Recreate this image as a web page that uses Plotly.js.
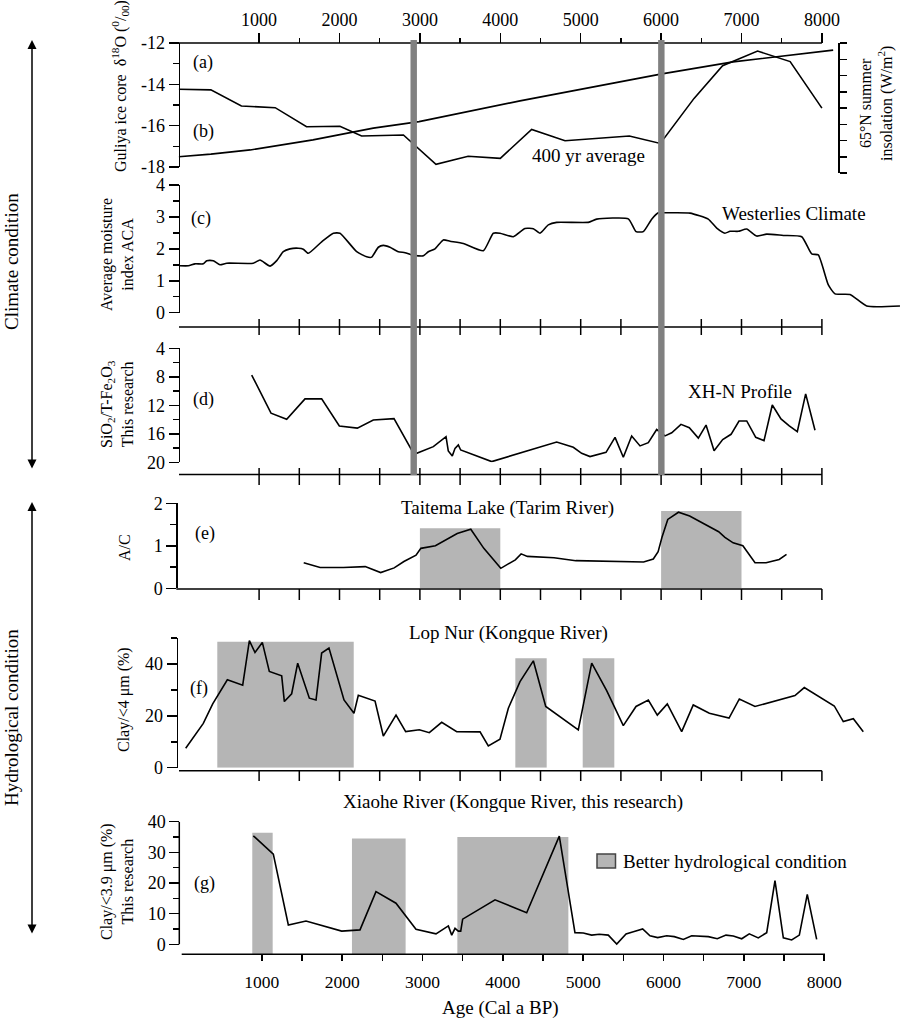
<!DOCTYPE html>
<html><head><meta charset="utf-8">
<script src="https://cdn.plot.ly/plotly-3.0.1.min.js"></script>
<style>html,body{margin:0;padding:0;background:#fff}#chart{width:900px;height:1020px}</style>
</head><body><div id="chart"></div>
<script>
// ---------------- DATA ----------------
// (a) Guliya ice core d18O (per mil), 400 yr average
const aAge = [0, 400, 780, 1200, 1590, 2005, 2275, 2795, 3200, 3600, 4000, 4390, 4805, 5605, 5990, 6410, 6765, 7200, 7605, 8000];
const aVal = [-14.24, -14.27, -15.05, -15.13, -16.05, -16.03, -16.5, -16.45, -17.87, -17.48, -17.58, -16.18, -16.73, -16.5, -16.86, -14.68, -13.1, -12.39, -12.9, -15.15];
// (b) 65N summer insolation (W/m2)
const bAge = [0, 400, 890, 1670, 2420, 2990, 4245, 6010, 6895, 8140];
const bVal = [475.0, 475.8, 477.1, 480.2, 483.8, 485.8, 492.2, 500.5, 504.2, 507.8];
// (c) Average moisture index ACA
const cAge = [16,120,203,306,348,430,514,597,928,1011,1136,1219,1301,1384,1488,1550,1612,1778,1923,2006,2214,2338,2400,2483,2545,2628,2731,2815,2898,2980,3043,3105,3188,3291,3375,3540,3789,3913,3996,4162,4307,4411,4494,4597,4701,5095,5199,5592,5688,5779,5883,5965,6070,6360,6587,6692,6794,6857,6960,7065,7189,7313,7520,7749,7873,7955,8080,8163,8350,8557,8971];
const cVal = [1.47,1.47,1.53,1.53,1.63,1.63,1.50,1.55,1.55,1.65,1.46,1.63,1.91,2.0,2.02,1.99,1.86,2.22,2.49,2.49,1.91,1.75,1.74,2.05,2.11,2.05,1.91,1.88,1.81,1.78,1.78,1.91,2.0,2.28,2.24,2.17,1.94,2.49,2.49,2.38,2.64,2.63,2.49,2.75,2.83,2.83,2.93,2.94,2.54,2.54,2.93,3.13,3.13,3.12,2.93,2.65,2.49,2.55,2.55,2.62,2.40,2.46,2.42,2.38,1.84,1.81,0.87,0.59,0.57,0.21,0.21];
// (d) SiO2/T-Fe2O3, XH-N profile
const dAge = [908,1148,1343,1571,1778,1998,2222,2420,2678,2898,2960,3167,3325,3353,3403,3437,3478,3507,3893,4701,4908,5012,5116,5315,5427,5530,5634,5738,5841,5945,6048,6132,6247,6351,6463,6559,6659,6766,6870,6969,7065,7177,7280,7383,7491,7594,7694,7798,7914];
const dVal = [7.75,13.1,13.97,11.1,11.08,14.9,15.2,14.07,13.88,18.3,18.74,17.8,16.4,18.4,19.1,18.04,17.57,18.27,19.9,17.15,17.9,18.74,19.2,18.6,16.5,19.3,16.3,17.7,17.25,15.4,16.3,15.85,14.67,15.14,16.6,14.77,18.37,16.8,16.07,14.2,14.2,16.5,16.97,11.96,13.92,14.9,15.7,10.4,15.5];
// (e) A/C, Taitema Lake
const eAge = [1555,1759,2048,2320,2512,2680,2801,2952,3012,3193,3464,3633,3795,4006,4187,4259,4337,4668,4939,5542,5782,5903,5963,6011,6083,6216,6355,6716,6794,6896,7017,7168,7306,7469,7560];
const eVal = [0.60,0.49,0.49,0.51,0.37,0.48,0.63,0.78,0.94,1.0,1.29,1.39,0.94,0.47,0.67,0.81,0.75,0.72,0.65,0.63,0.62,0.69,0.86,1.2,1.62,1.79,1.70,1.33,1.2,1.07,1.0,0.60,0.60,0.68,0.80];
// (f) Clay/<4 um (%), Lop Nur
const fAge = [87,306,423,605,796,879,949,1040,1127,1281,1314,1405,1480,1625,1708,1778,1869,2056,2180,2234,2442,2545,2703,2823,2993,3117,3271,3458,3748,3851,3996,4100,4245,4411,4565,4970,5137,5323,5530,5688,5841,5953,6077,6256,6400,6600,6845,6973,7168,7665,7781,8154,8266,8391,8515];
const fVal = [7.5,17.1,24.6,33.9,31.8,49.0,44.4,48.3,37.1,35.4,25.5,28.5,40.3,26.8,26.1,44.2,46.1,26.1,21.0,27.9,25.7,12.2,20.3,13.9,14.6,13.5,17.5,13.9,13.8,8.4,11.0,22.9,33.2,41.2,23.6,14.6,40.3,29.7,16.2,23.6,26.1,20.3,24.6,13.9,24.2,21.0,19.1,26.5,23.6,27.8,30.9,23.8,17.8,18.9,13.9];
// (g) Clay/<3.9 um (%), Xiaohe River
const gAge = [894,1143,1330,1550,1994,2222,2421,2670,2919,3168,3322,3364,3405,3446,3476,3500,3903,4297,4703,4898,5002,5106,5201,5313,5418,5534,5625,5741,5832,5928,6040,6135,6247,6351,6558,6670,6778,6869,6974,7068,7180,7285,7388,7492,7596,7691,7790,7907];
const gVal = [35.4,29.4,6.3,7.6,4.3,4.7,17.2,13.4,4.9,3.4,6.0,3.0,5.2,4.3,4.3,8.2,14.5,10.3,35.3,3.8,3.7,3.0,3.3,3.0,0.1,3.4,4.1,5.0,2.8,2.2,2.8,2.5,1.6,2.8,2.5,1.8,3.0,2.7,1.8,3.4,2.1,3.8,20.8,2.1,1.4,3.0,16.3,1.6];
// Better hydrological condition intervals [start age, end age, top value]
const eBoxStart = [3000, 6000], eBoxEnd = [4000, 7000], eBoxTop = [1.41, 1.82];
const fBoxStart = [480, 4187, 5025], fBoxEnd = [2177, 4577, 5418], fBoxTop = [48.6, 42.2, 42.2];
const gBoxStart = [881, 2122, 3434], gBoxEnd = [1135, 2790, 4816], gBoxTop = [36.4, 34.5, 35.0];
// transition events (grey vertical bars)
const eventAges = [2923, 6003];
// tick labels
const ageTickVals = [1000,2000,3000,4000,5000,6000,7000,8000];
const ageTickText = ['1000','2000','3000','4000','5000','6000','7000','8000'];
const ageHalfTicks = [1500,2500,3500,4500,5500,6500,7500];
const ageAllTicks = [1000,1500,2000,2500,3000,3500,4000,4500,5000,5500,6000,6500,7000,7500,8000];

// ---------------- LAYOUT HELPERS ----------------
const W = 900, H = 1020;
const px = v => v / W, py = v => 1 - v / H;
const XL = 178.7, K = 0.0804;          // main age axis: pixel of age 0, px per year
const XLg = 181.5, Kg = 0.08033;       // bottom panel age axis
const XD = [px(XL), 1];
const xRange = [0, (W - XL) / K];
const xRangeG = [(XL - XLg) / Kg, (W - XLg) / Kg];
const FONT = '"Liberation Serif", "Times New Roman", serif';
const BLACK = '#000';
const BOXC = '#b5b5b5';

function yAxis(topPx, botPx, range, tv, tt, minor, posPx, showline) {
  return {
    domain: [py(botPx), py(topPx)], range: range, anchor: 'free', position: px(posPx),
    showline: showline !== false, linecolor: BLACK, linewidth: 1.5, showgrid: false, zeroline: false,
    tickmode: 'array', tickvals: tv, ticktext: tt, ticks: 'outside', ticklen: 10, tickwidth: 1.5, tickcolor: BLACK,
    tickfont: {family: FONT, size: 18, color: BLACK},
    minor: {tickmode: 'array', tickvals: minor, ticks: 'outside', ticklen: 6, tickwidth: 1.5, tickcolor: BLACK, showgrid: false},
    fixedrange: true
  };
}

const line = {color: BLACK, width: 1.6};
const traces = [
  {x: aAge, y: aVal, xaxis: 'x', yaxis: 'y', mode: 'lines', line: line},
  {x: bAge, y: bVal, xaxis: 'x', yaxis: 'y2', mode: 'lines', line: line},
  {x: cAge, y: cVal, xaxis: 'x', yaxis: 'y3', mode: 'lines', line: Object.assign({shape: 'spline', smoothing: 0.5}, line)},
  {x: dAge, y: dVal, xaxis: 'x', yaxis: 'y4', mode: 'lines', line: line},
  {x: eAge, y: eVal, xaxis: 'x', yaxis: 'y5', mode: 'lines', line: line},
  {x: fAge, y: fVal, xaxis: 'x', yaxis: 'y6', mode: 'lines', line: line},
  {x: gAge, y: gVal, xaxis: 'x2', yaxis: 'y7', mode: 'lines', line: line}
];

const gBase = -(954.3 - 944.3) / ((944.3 - 821.7) / 40);

const layout = {
  width: W, height: H, margin: {l: 0, r: 0, t: 0, b: 0},
  paper_bgcolor: '#fff', plot_bgcolor: 'rgba(0,0,0,0)', showlegend: false,
  font: {family: FONT, size: 18, color: BLACK},
  xaxis: {
    domain: XD, range: xRange, anchor: 'free', position: py(43), side: 'top',
    showline: false, showgrid: false, zeroline: false,
    tickmode: 'array', tickvals: ageTickVals, ticktext: ageTickText, ticks: 'outside', ticklen: 10, tickwidth: 1.5, tickcolor: BLACK,
    tickfont: {family: FONT, size: 18, color: BLACK},
    minor: {tickmode: 'array', tickvals: ageHalfTicks, ticks: 'outside', ticklen: 5, tickwidth: 1.5, tickcolor: BLACK, showgrid: false},
    fixedrange: true
  },
  xaxis2: {
    domain: XD, range: xRangeG, anchor: 'free', position: py(954.3), side: 'bottom',
    showline: false, showgrid: false, zeroline: false,
    tickmode: 'array', tickvals: ageTickVals, ticktext: ageTickText, ticks: 'outside', ticklen: 6, tickwidth: 1.5, tickcolor: BLACK,
    tickfont: {family: FONT, size: 17.5, color: BLACK}, ticklabelstandoff: 6,
    minor: {tickmode: 'array', tickvals: ageHalfTicks, ticks: 'outside', ticklen: 6, tickwidth: 1.5, tickcolor: BLACK, showgrid: false},
    fixedrange: true
  },
  yaxis: yAxis(43, 167, [-18, -12], [-18, -16, -14, -12], ['-18', '-16', '-14', '-12'], [-17, -15, -13], XL),
  yaxis2: Object.assign(yAxis(43, 173, [470, 510], [470, 475, 480, 485, 490, 495, 500, 505, 510], null, [], 838), {side: 'right', showticklabels: false, ticklen: 7}),
  yaxis3: yAxis(185, 312.7, [0, 4], [0, 1, 2, 3, 4], ['0', '1', '2', '3', '4'], [0.5, 1.5, 2.5, 3.5], XL),
  yaxis4: yAxis(348.3, 462.3, [20, 4], [4, 8, 12, 16, 20], ['4', '8', '12', '16', '20'], [6, 10, 14, 18], XL),
  yaxis5: yAxis(503.3, 588.3, [0, 2], [0, 1, 2], ['0', '1', '2'], [0.5, 1.5], 176.3),
  yaxis6: yAxis(638, 767.7, [0, 50], [0, 20, 40], ['0', '20', '40'], [10, 30, 50], 176.7),
  yaxis7: yAxis(821.7, 954.3, [gBase, 40], [0, 10, 20, 30, 40], ['0', '10', '20', '30', '40'], [5, 15, 25, 35], 179.3, false),
  shapes: [],
  annotations: []
};

// horizontal axis lines (left end px, right end px, y px)
const AX_END = XL + 8000 * K;
[[176.5, AX_END, 43], [179, AX_END, 327], [179, AX_END, 474.5], [176.3, AX_END, 589], [179, AX_END, 770.7], [181.7, 825, 954.3]].forEach(a => {
  layout.shapes.push({type: 'line', xref: 'paper', yref: 'paper', x0: px(a[0]), x1: px(a[1]), y0: py(a[2]), y1: py(a[2]), line: {color: BLACK, width: 1.5}});
});
layout.shapes.push({type: 'line', xref: 'paper', yref: 'y7', x0: px(179.3), x1: px(179.3), y0: 0, y1: 40, line: {color: BLACK, width: 1.5}});

// interior tick rows (top px, bottom px) at every 500-yr age tick
[[319, 335], [468, 485], [589, 600], [770.7, 781]].forEach(r => {
  ageAllTicks.forEach(t => {
    layout.shapes.push({type: 'line', xref: 'x', yref: 'paper', x0: t, x1: t, y0: py(r[0]), y1: py(r[1]), line: {color: BLACK, width: 1.5}});
  });
});

// shaded boxes
function addBoxes(st, en, top, xr, yr, base) {
  for (let i = 0; i < st.length; i++) {
    layout.shapes.push({type: 'rect', xref: xr, yref: yr, x0: st[i], x1: en[i], y0: base, y1: top[i], fillcolor: BOXC, line: {width: 0}, layer: 'below'});
  }
}
addBoxes(eBoxStart, eBoxEnd, eBoxTop, 'x', 'y5', 0);
addBoxes(fBoxStart, fBoxEnd, fBoxTop, 'x', 'y6', 0);
addBoxes(gBoxStart, gBoxEnd, gBoxTop, 'x2', 'y7', gBase);

// event bars
eventAges.forEach(a => {
  layout.shapes.push({type: 'rect', xref: 'x', yref: 'paper', x0: a - 40, x1: a + 40, y0: py(475), y1: py(40), fillcolor: '#808080', line: {width: 0}, layer: 'above'});
});

// legend box
layout.shapes.push({type: 'rect', xref: 'paper', yref: 'paper', x0: px(597), x1: px(615.5), y0: py(868), y1: py(854), fillcolor: BOXC, line: {color: '#444', width: 1.5}});

function ann(text, x, y, opt) {
  layout.annotations.push(Object.assign({text: text, x: px(x), y: py(y), xref: 'paper', yref: 'paper', showarrow: false,
    xanchor: 'center', yanchor: 'middle', font: {family: FONT, size: 19, color: BLACK}}, opt || {}));
}
// panel letters
const lf = {font: {family: FONT, size: 18, color: BLACK}};
ann('(a)', 203, 62, lf); ann('(b)', 203, 132, lf); ann('(c)', 201, 218, lf); ann('(d)', 203, 400, lf);
ann('(e)', 205, 533, lf); ann('(f)', 199, 688, lf); ann('(g)', 204, 883, lf);
// in-plot labels
ann('400 yr average', 588, 155); ann('Westerlies Climate', 794, 213); ann('XH-N Profile', 740, 392);
ann('Taitema Lake (Tarim River)', 507, 508); ann('Lop Nur (Kongque River)', 508, 633);
ann('Xiaohe River (Kongque River, this research)', 513, 802);
ann('Better hydrological condition', 621, 861, {xanchor: 'left'});
ann('Age (Cal a BP)', 500, 1008);
// axis titles (rotated)
const rot = {textangle: -90, font: {family: FONT, size: 16, color: BLACK}};
ann('Guliya ice core  δ<sup>18</sup>O (<sup>0</sup>/<sub>00</sub>)', 120, 86, rot);
ann('Average moisture<br>index ACA', 117, 255, rot);
ann('SiO<sub>2</sub>/T-Fe<sub>2</sub>O<sub>3</sub><br>This research', 117, 404, rot);
ann('A/C', 124, 548, rot);
ann('Clay/<4 μm (%)', 124, 700, rot);
ann('Clay/<3.9 μm (%)<br>This research', 117, 882, rot);
ann('65°N summer<br>insolation (W/m<sup>2</sup>)', 877, 104, rot);
const rotBig = {textangle: -90, font: {family: FONT, size: 19, color: BLACK}};
ann('Climate condition', 11, 262, rotBig);
ann('Hydrological condition', 11, 718, rotBig);
// double arrows
[[40, 470], [502, 935]].forEach(a => {
  layout.annotations.push({x: px(32), y: py(a[0]), xref: 'paper', yref: 'paper', ax: 0, ay: a[1] - a[0], axref: 'pixel', ayref: 'pixel',
    text: '', showarrow: true, arrowhead: 2, startarrowhead: 2, arrowside: 'end+start', arrowsize: 1.2, arrowwidth: 1.5, arrowcolor: BLACK});
});

Plotly.newPlot('chart', traces, layout, {staticPlot: true, displayModeBar: false});
</script></body></html>
